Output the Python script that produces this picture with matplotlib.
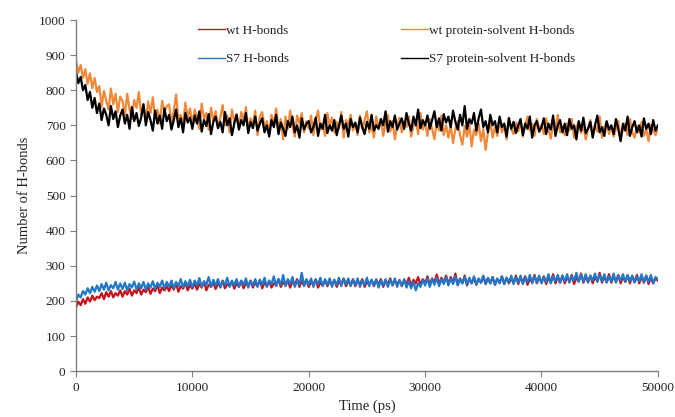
import numpy as np
import matplotlib
matplotlib.use("Agg")
import matplotlib.pyplot as plt

plt.rcParams['font.family'] = ['Liberation Serif', 'DejaVu Serif']

time_ps = list(range(0, 50001, 200))

wt_ps = [885, 850, 872, 835, 860, 818, 848, 806, 835, 795,
         812, 752, 798, 770, 745, 805, 760, 790, 738, 782,
         770, 728, 790, 745, 718, 772, 750, 795, 730, 760,
         712, 768, 735, 780, 720, 745, 705, 770, 738, 755,
         760, 705, 742, 788, 715, 730, 698, 765, 722, 748,
         700, 745, 725, 690, 762, 718, 735, 688, 750, 712,
         740, 695, 722, 758, 700, 728, 680, 745, 710, 732,
         690, 738, 715, 752, 685, 720, 700, 742, 672, 725,
         738, 695, 712, 675, 730, 700, 748, 685, 718, 660,
         725, 690, 742, 700, 668, 728, 705, 735, 680, 712,
         690, 728, 672, 715, 742, 688, 705, 670, 735, 698,
         722, 680, 710, 690, 738, 665, 715, 700, 730, 685,
         705, 672, 728, 690, 715, 740, 680, 700, 665, 725,
         690, 718, 670, 705, 730, 682, 712, 660, 700, 722,
         680, 710, 695, 725, 668, 700, 715, 675, 735, 688,
         705, 670, 718, 690, 660, 712, 685, 728, 672, 700,
         665, 700, 650, 690, 712, 672, 645, 698, 668, 705,
         640, 688, 672, 705, 655, 690, 630, 682, 710, 665,
         695, 670, 715, 680, 700, 660, 722, 690, 675, 708,
         682, 712, 668, 700, 725, 685, 705, 670, 718, 692,
         700, 675, 720, 688, 662, 710, 695, 730, 680, 698,
         672, 705, 685, 718, 665, 695, 710, 678, 700, 660,
         690, 715, 670, 700, 682, 725, 665, 695, 708, 675,
         700, 668, 690, 712, 660, 688, 705, 672, 718, 680,
         665, 698, 680, 710, 670, 690, 655, 702, 685, 672,
         690]

s7_ps = [852, 820, 838, 800, 815, 772, 795, 750, 778, 735,
         762, 715, 748, 730, 700, 755, 718, 740, 695, 728,
         745, 705, 730, 690, 752, 712, 735, 698, 722, 760,
         700, 738, 715, 685, 742, 705, 728, 690, 748, 712,
         730, 688, 715, 745, 695, 720, 680, 735, 708, 722,
         690, 728, 705, 740, 682, 715, 698, 732, 675, 710,
         725, 692, 710, 680, 738, 700, 720, 672, 705, 730,
         688, 715, 700, 735, 678, 710, 692, 725, 685, 705,
         720, 680, 700, 668, 715, 695, 730, 675, 708, 690,
         670, 712, 695, 725, 680, 700, 665, 720, 688, 705,
         712, 680, 695, 722, 670, 705, 690, 730, 678, 700,
         685, 715, 672, 700, 728, 690, 705, 668, 718, 695,
         708, 680, 722, 695, 675, 710, 690, 730, 685, 700,
         690, 718, 700, 740, 682, 712, 695, 728, 688, 705,
         720, 690, 735, 705, 685, 725, 700, 745, 692, 715,
         700, 728, 690, 715, 740, 695, 720, 685, 732, 708,
         725, 695, 742, 710, 688, 730, 700, 755, 690, 718,
         705, 735, 685, 720, 745, 695, 712, 680, 730, 700,
         712, 680, 725, 695, 705, 668, 720, 690, 710, 678,
         700, 718, 672, 705, 690, 725, 665, 700, 712, 682,
         695, 720, 675, 705, 688, 728, 670, 700, 715, 680,
         705, 672, 718, 690, 700, 660, 712, 685, 722, 678,
         690, 710, 665, 700, 728, 680, 695, 670, 712, 688,
         700, 675, 718, 690, 655, 705, 685, 725, 670, 695,
         712, 680, 700, 668, 720, 690, 705, 675, 715, 685,
         700]

wt_hb = [182, 198, 188, 205, 192, 210, 198, 215, 202, 212,
         208, 222, 205, 225, 212, 228, 210, 222, 215, 230,
         212, 228, 218, 235, 215, 230, 222, 238, 218, 232,
         225, 240, 220, 235, 228, 245, 222, 238, 230, 242,
         228, 245, 232, 250, 226, 242, 235, 252, 230, 245,
         235, 250, 232, 248, 238, 255, 230, 246, 240, 252,
         234, 250, 240, 258, 236, 248, 242, 255, 235, 250,
         240, 256, 236, 250, 244, 258, 238, 252, 242, 260,
         236, 252, 242, 256, 238, 250, 245, 262, 240, 254,
         244, 258, 238, 255, 246, 262, 240, 256, 244, 260,
         240, 255, 246, 262, 238, 252, 244, 258, 242, 256,
         246, 260, 240, 255, 248, 264, 242, 258, 245, 262,
         242, 256, 248, 262, 240, 254, 246, 260, 242, 258,
         246, 262, 240, 256, 248, 264, 244, 258, 246, 260,
         242, 258, 248, 266, 244, 260, 250, 268, 246, 262,
         250, 270, 246, 264, 252, 275, 248, 266, 252, 272,
         248, 268, 252, 278, 246, 264, 250, 272, 244, 262,
         250, 266, 246, 262, 252, 270, 248, 264, 250, 268,
         246, 262, 252, 270, 248, 266, 250, 264, 252, 272,
         248, 266, 252, 270, 246, 262, 254, 274, 250, 268,
         252, 270, 248, 266, 254, 276, 250, 268, 252, 272,
         250, 268, 254, 274, 248, 266, 256, 278, 252, 270,
         254, 272, 250, 268, 256, 280, 252, 270, 254, 276,
         252, 270, 256, 274, 250, 268, 254, 272, 250, 270,
         254, 274, 250, 268, 252, 272, 248, 266, 250, 264,
         258]

s7_hb = [198, 218, 210, 228, 218, 236, 222, 240, 226, 244,
         228, 248, 232, 252, 230, 245, 236, 254, 232, 250,
         234, 252, 230, 248, 238, 255, 232, 250, 236, 254,
         232, 250, 238, 256, 234, 252, 240, 258, 236, 254,
         240, 258, 236, 254, 242, 262, 238, 256, 242, 260,
         238, 258, 244, 265, 240, 256, 246, 268, 240, 260,
         244, 262, 238, 256, 246, 266, 240, 258, 244, 262,
         240, 258, 246, 264, 238, 256, 244, 262, 240, 260,
         246, 266, 240, 258, 248, 270, 242, 262, 246, 274,
         242, 262, 248, 268, 240, 258, 246, 280, 242, 262,
         246, 264, 240, 260, 248, 266, 242, 262, 246, 264,
         240, 260, 246, 266, 242, 262, 248, 264, 242, 260,
         246, 264, 240, 258, 246, 266, 242, 260, 244, 262,
         238, 258, 244, 262, 240, 260, 246, 264, 240, 258,
         244, 262, 238, 256, 236, 254, 230, 250, 240, 260,
         244, 264, 240, 262, 246, 266, 242, 262, 248, 268,
         244, 264, 248, 270, 244, 262, 250, 268, 246, 266,
         250, 270, 246, 264, 252, 272, 248, 266, 250, 268,
         246, 264, 250, 270, 248, 266, 252, 272, 248, 268,
         252, 272, 248, 266, 254, 274, 250, 270, 252, 272,
         250, 268, 254, 276, 250, 270, 256, 274, 252, 272,
         256, 276, 252, 270, 258, 280, 254, 274, 256, 276,
         252, 272, 258, 278, 254, 274, 256, 276, 252, 270,
         256, 278, 252, 272, 258, 276, 254, 274, 256, 272,
         252, 270, 256, 276, 252, 272, 254, 274, 250, 268,
         262]

labels = ["wt H-bonds", "wt protein-solvent H-bonds", "S7 H-bonds", "S7 protein-solvent H-bonds"]
colors = ["#C5121C", "#F0883A", "#1F78C8", "#000000"]

fig = plt.figure(figsize=(6.75, 4.17), dpi=100)
ax = fig.add_axes([0.1126, 0.110, 0.862, 0.842])

series = [wt_hb, wt_ps, s7_hb, s7_ps]
handles = []
for vals, lab, col in zip(series, labels, colors):
    h, = ax.plot(time_ps, vals, color=col, lw=1.6, label=lab)
    handles.append(h)

ax.set_xlim(0, 50000)
ax.set_ylim(0, 1000)
ax.set_xticks(range(0, 50001, 10000))
ax.set_yticks(range(0, 1001, 100))
for s in ["top", "right"]:
    ax.spines[s].set_visible(False)
for s in ["left", "bottom"]:
    ax.spines[s].set_color("#7f7f7f")
    ax.spines[s].set_linewidth(1.0)
ax.tick_params(axis="both", colors="#7f7f7f", labelcolor="#222222", labelsize=9.5, length=4)
ax.set_xlabel("Time (ps)", fontsize=10.5, color="#222222", labelpad=4)
ax.set_ylabel("Number of H-bonds", fontsize=10.5, color="#222222", labelpad=6)

order = [handles[0], handles[2], handles[1], handles[3]]
leg = ax.legend(order, [h.get_label() for h in order], ncol=2, frameon=False,
                loc="upper left", bbox_to_anchor=(0.19, 1.02), fontsize=9.5,
                handlelength=2.0, handletextpad=0.1, columnspacing=8.5,
                labelspacing=1.2)
for h in leg.get_lines():
    h.set_linewidth(1.0)
for t in leg.get_texts():
    t.set_color("#222222")

fig.savefig("out.png", dpi=100)
